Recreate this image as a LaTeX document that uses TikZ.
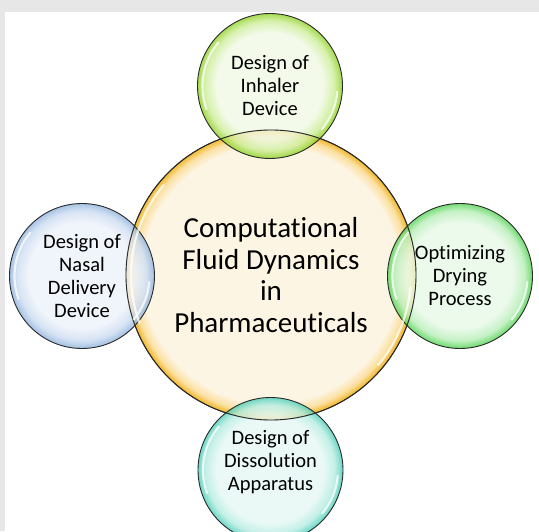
\documentclass[tikz,border=0pt]{standalone}
\usepackage{fontspec}
\setmainfont{Carlito}[Ligatures=NoCommon]
\usetikzlibrary{calc}

% bubble palettes: centre, mid-rim, outer rim
\definecolor{pagegrey}{HTML}{E7E7E7}
\definecolor{ringline}{HTML}{2A2A2A}
\definecolor{hubA}{HTML}{FDF5E3}
\definecolor{hubB}{HTML}{FBE0A0}
\definecolor{hubC}{HTML}{F2B82A}
\definecolor{limeA}{HTML}{F0F9E4}
\definecolor{limeB}{HTML}{CDEE98}
\definecolor{limeC}{HTML}{8FD324}
\definecolor{skyA}{HTML}{EDF2FA}
\definecolor{skyB}{HTML}{CCDDF2}
\definecolor{skyC}{HTML}{92B4DE}
\definecolor{mintA}{HTML}{E6F9E6}
\definecolor{mintB}{HTML}{B8EFB8}
\definecolor{mintC}{HTML}{52D452}
\definecolor{aquaA}{HTML}{E5F8F4}
\definecolor{aquaB}{HTML}{B5EDE2}
\definecolor{aquaC}{HTML}{4CCFBA}

% radial tint built from concentric discs:
% #1 centre, #2 radius, #3 inner, #4 middle, #5 rim colour, #6 where the tint starts (fraction of radius)
\newcommand\bubblefill[6]{%
  \pgfmathsetmacro\bfs{#6}%
  \pgfmathsetmacro\bfm{#6+0.6*(1-#6)}%
  \foreach \k in {0,...,36}{%
    \pgfmathsetmacro\bft{1-(1-\bfs)*\k/36}%
    \ifdim\bft pt<\bfm pt
      \pgfmathtruncatemacro\bfp{100*(\bft-\bfs)/(\bfm-\bfs)}%
      \fill[#4!\bfp!#3] (#1) circle[radius=\bft*#2];
    \else
      \pgfmathtruncatemacro\bfp{100*(\bft-\bfm)/(1-\bfm)}%
      \fill[#5!\bfp!#4] (#1) circle[radius=\bft*#2];
    \fi
  }%
}

\tikzset{
  bubble/.style={circle, inner sep=0pt, draw=ringline, line width=0.9pt,
    align=center, text=black},
  hubbubble/.style={bubble, minimum size=290pt,
    font=\fontsize{29}{31.5}\selectfont},
  satbubble/.style={bubble, minimum size=145pt,
    font=\fontsize{20.5}{23}\selectfont},
  veil/.style={transparency group, opacity=0.8},
  gloss/.style={white, line width=2.2pt, line cap=round, opacity=0.75},
  rimline/.style={ringline, line width=0.9pt},
}

\begin{document}
\begin{tikzpicture}[x=1pt,y=1pt]
  % page backdrop
  \fill[pagegrey] (0,0) rectangle (539,531);
  \fill[white] (5,0) rectangle (539,519);
  \useasboundingbox (0,0) rectangle (539,531);

  % bubble centres
  \coordinate (hubc) at (271,256);
  \coordinate (inhalerc) at (270,445);
  \coordinate (nasalc) at (82,255);
  \coordinate (dryingc) at (460,255);
  \coordinate (dissolutionc) at (270.5,61);

  % central topic
  \bubblefill{hubc}{145}{hubA}{hubB}{hubC}{0.89}
  \node[hubbubble] (hub) at (hubc)
    {Computational\\Fluid Dynamics\\in\\Pharmaceuticals};

  % application areas, slightly see-through
  \begin{scope}[veil]\bubblefill{inhalerc}{72.5}{limeA}{limeB}{limeC}{0.74}\end{scope}
  \begin{scope}[veil]\bubblefill{nasalc}{72.5}{skyA}{skyB}{skyC}{0.74}\end{scope}
  \begin{scope}[veil]\bubblefill{dryingc}{72.5}{mintA}{mintB}{mintC}{0.74}\end{scope}
  \begin{scope}[veil]\bubblefill{dissolutionc}{72.5}{aquaA}{aquaB}{aquaC}{0.74}\end{scope}

  \node[satbubble] (inhaler) at (inhalerc) {Design of\\Inhaler\\Device};
  \node[satbubble] (nasal) at (nasalc) {Design of\\Nasal\\Delivery\\Device};
  \node[satbubble] (drying) at (dryingc) {Optimizing\\Drying\\Process};
  \node[satbubble] (dissolution) at (dissolutionc)
    {Design of\\Dissolution\\Apparatus\\[-4pt]};

  % hub outline kept visible through the overlapping bubbles
  \draw[rimline] (hub.center) circle[radius=145];

  % glossy highlights
  \foreach \b/\r in {hub/145, inhaler/72.5, nasal/72.5, drying/72.5, dissolution/72.5}{
    \draw[gloss] ($(\b.center)+(140:\r-5)$) arc[start angle=140, end angle=200, radius=\r-5];
    \draw[gloss] ($(\b.center)+(-40:\r-5)$) arc[start angle=-40, end angle=-5, radius=\r-5];
  }
\end{tikzpicture}
\end{document}
